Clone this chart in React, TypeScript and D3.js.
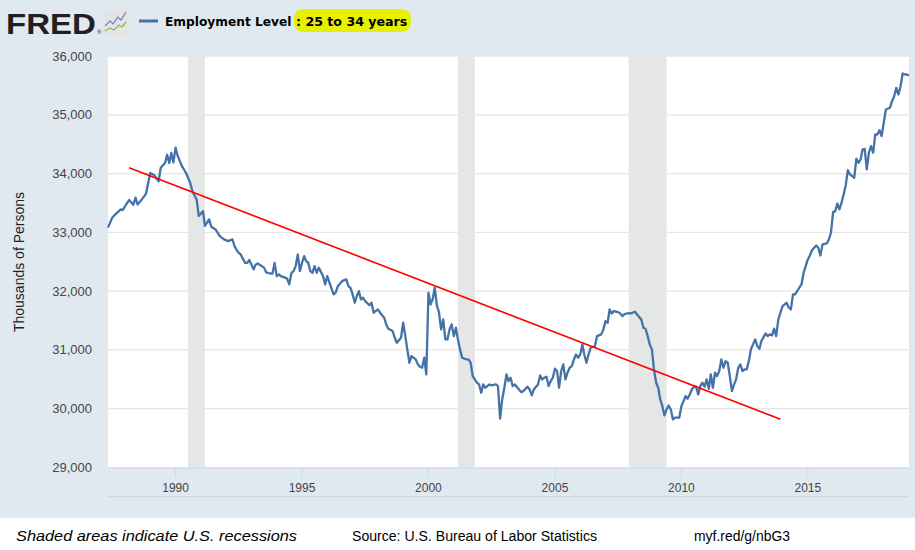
import * as d3 from 'd3';

// Employment Level: 25 to 34 years (thousands of persons), monthly readings
const series: [string, number][] = [
  ['1987-05', 33080], ['1987-07', 33250], ['1987-08', 33290], ['1987-11', 33390], ['1987-12', 33380],
  ['1988-02', 33500], ['1988-03', 33550], ['1988-05', 33470], ['1988-06', 33590], ['1988-07', 33475],
  ['1988-09', 33560], ['1988-11', 33660], ['1988-12', 33840],
  ['1989-01', 34010], ['1989-03', 33970], ['1989-05', 33870], ['1989-06', 34100], ['1989-08', 34180],
  ['1989-09', 34320], ['1989-10', 34180], ['1989-11', 34350], ['1989-12', 34190],
  ['1990-01', 34440], ['1990-02', 34300], ['1990-04', 34130], ['1990-06', 34010], ['1990-08', 33840],
  ['1990-09', 33700], ['1990-11', 33560], ['1990-12', 33280],
  ['1991-02', 33360], ['1991-03', 33110], ['1991-05', 33220], ['1991-06', 33095], ['1991-08', 33050],
  ['1991-10', 32935], ['1991-12', 32880],
  ['1992-02', 32850], ['1992-04', 32880], ['1992-05', 32765], ['1992-06', 32700], ['1992-07', 32650],
  ['1992-08', 32620], ['1992-10', 32480], ['1992-11', 32480], ['1992-12', 32530],
  ['1993-02', 32370], ['1993-03', 32450], ['1993-04', 32470], ['1993-06', 32425], ['1993-07', 32400],
  ['1993-08', 32320], ['1993-10', 32300], ['1993-11', 32300], ['1993-12', 32480],
  ['1994-01', 32255], ['1994-02', 32285], ['1994-03', 32255], ['1994-05', 32230], ['1994-06', 32210],
  ['1994-07', 32115], ['1994-08', 32310], ['1994-09', 32340], ['1994-10', 32425], ['1994-11', 32624],
  ['1994-12', 32340],
  ['1995-01', 32483], ['1995-02', 32595], ['1995-03', 32510], ['1995-04', 32483], ['1995-05', 32340],
  ['1995-06', 32313], ['1995-07', 32425], ['1995-08', 32313], ['1995-09', 32398], ['1995-11', 32255],
  ['1995-12', 32114],
  ['1996-01', 32255], ['1996-02', 32143], ['1996-04', 31944], ['1996-05', 31973], ['1996-06', 32085],
  ['1996-08', 32170], ['1996-10', 32200], ['1996-11', 32085], ['1996-12', 32057],
  ['1997-01', 31944], ['1997-02', 31803], ['1997-03', 31915], ['1997-04', 32000], ['1997-05', 31859],
  ['1997-06', 31888], ['1997-07', 31830], ['1997-09', 31760], ['1997-10', 31803], ['1997-11', 31633],
  ['1998-01', 31690], ['1998-02', 31633], ['1998-04', 31548], ['1998-05', 31434], ['1998-06', 31361],
  ['1998-08', 31320], ['1998-09', 31207], ['1998-10', 31122], ['1998-12', 31207],
  ['1999-01', 31463], ['1999-02', 31235], ['1999-03', 31009], ['1999-04', 30782], ['1999-05', 30895],
  ['1999-07', 30838], ['1999-08', 30754], ['1999-09', 30714], ['1999-10', 30697], ['1999-11', 30867],
  ['1999-12', 30583],
  ['2000-01', 31973], ['2000-02', 31774], ['2000-03', 31859], ['2000-04', 32058], ['2000-05', 31760],
  ['2000-06', 31640], ['2000-07', 31349], ['2000-08', 31519], ['2000-09', 31179], ['2000-10', 31179],
  ['2000-11', 31349], ['2000-12', 31434],
  ['2001-01', 31235], ['2001-02', 31378], ['2001-03', 31179], ['2001-04', 31009], ['2001-05', 30867],
  ['2001-07', 30838], ['2001-08', 30838], ['2001-09', 30782], ['2001-10', 30554], ['2001-12', 30442],
  ['2002-01', 30413], ['2002-02', 30272], ['2002-03', 30413], ['2002-04', 30357], ['2002-06', 30413],
  ['2002-07', 30396], ['2002-09', 30413], ['2002-10', 30385], ['2002-11', 29830], ['2002-12', 30158],
  ['2003-01', 30357], ['2003-02', 30583], ['2003-03', 30470], ['2003-04', 30527], ['2003-05', 30385],
  ['2003-06', 30413], ['2003-08', 30328], ['2003-09', 30282], ['2003-10', 30299], ['2003-12', 30374],
  ['2004-01', 30328], ['2004-02', 30226], ['2004-03', 30328], ['2004-05', 30413], ['2004-06', 30566],
  ['2004-07', 30498], ['2004-08', 30527], ['2004-09', 30544], ['2004-10', 30385], ['2004-11', 30470],
  ['2004-12', 30527],
  ['2005-01', 30680], ['2005-02', 30639], ['2005-03', 30357], ['2005-04', 30639], ['2005-05', 30753],
  ['2005-06', 30498], ['2005-07', 30612], ['2005-08', 30697], ['2005-09', 30724], ['2005-10', 30838],
  ['2005-11', 30923], ['2005-12', 30867],
  ['2006-01', 30923], ['2006-02', 31094], ['2006-03', 30923], ['2006-04', 30782], ['2006-05', 30923],
  ['2006-06', 31037], ['2006-08', 31065], ['2006-09', 31235], ['2006-11', 31264], ['2006-12', 31349],
  ['2007-01', 31490], ['2007-02', 31463], ['2007-03', 31689], ['2007-04', 31621], ['2007-05', 31660],
  ['2007-07', 31643], ['2007-08', 31621], ['2007-09', 31575], ['2007-10', 31609], ['2007-12', 31625],
  ['2008-01', 31621], ['2008-03', 31650], ['2008-04', 31604], ['2008-06', 31519], ['2008-07', 31378],
  ['2008-08', 31361], ['2008-09', 31235], ['2008-10', 31094], ['2008-11', 31009], ['2008-12', 30668],
  ['2009-01', 30442], ['2009-02', 30357], ['2009-03', 30158], ['2009-04', 30044], ['2009-05', 29886],
  ['2009-06', 29988], ['2009-07', 30056], ['2009-08', 29988], ['2009-09', 29818], ['2009-10', 29847],
  ['2009-12', 29847],
  ['2010-01', 30044], ['2010-02', 30129], ['2010-03', 30215], ['2010-04', 30170], ['2010-05', 30243],
  ['2010-06', 30328], ['2010-07', 30374], ['2010-08', 30374], ['2010-09', 30243], ['2010-10', 30385],
  ['2010-11', 30442], ['2010-12', 30374],
  ['2011-01', 30498], ['2011-02', 30340], ['2011-03', 30583], ['2011-04', 30357], ['2011-05', 30612],
  ['2011-06', 30554], ['2011-07', 30639], ['2011-08', 30838], ['2011-09', 30697], ['2011-10', 30810],
  ['2011-11', 30782], ['2011-12', 30554],
  ['2012-01', 30299], ['2012-02', 30413], ['2012-03', 30498], ['2012-04', 30697], ['2012-05', 30753],
  ['2012-06', 30639], ['2012-07', 30668], ['2012-08', 30668], ['2012-09', 30810], ['2012-10', 31009],
  ['2012-12', 31179],
  ['2013-01', 31065], ['2013-02', 31020], ['2013-03', 31150], ['2013-05', 31281], ['2013-06', 31235],
  ['2013-07', 31264], ['2013-08', 31247], ['2013-09', 31361], ['2013-10', 31235], ['2013-11', 31519],
  ['2013-12', 31633],
  ['2014-01', 31745], ['2014-03', 31803], ['2014-04', 31718], ['2014-05', 31689], ['2014-06', 31944],
  ['2014-07', 31944], ['2014-09', 32058], ['2014-10', 32114], ['2014-11', 32313], ['2014-12', 32425],
  ['2015-01', 32539], ['2015-02', 32607], ['2015-03', 32697], ['2015-05', 32777], ['2015-06', 32738],
  ['2015-07', 32607], ['2015-08', 32794], ['2015-10', 32811], ['2015-11', 32879], ['2015-12', 32993],
  ['2016-01', 33344], ['2016-02', 33361], ['2016-03', 33491], ['2016-04', 33390], ['2016-05', 33503],
  ['2016-06', 33645], ['2016-07', 33798], ['2016-08', 34058], ['2016-09', 33985], ['2016-11', 33929],
  ['2016-12', 34252],
  ['2017-01', 34184], ['2017-02', 34240], ['2017-03', 34410], ['2017-04', 34422], ['2017-05', 34070],
  ['2017-06', 34354], ['2017-07', 34466], ['2017-08', 34354], ['2017-09', 34665], ['2017-10', 34665],
  ['2017-11', 34738], ['2017-12', 34636],
  ['2018-01', 34864], ['2018-02', 35090], ['2018-04', 35119], ['2018-05', 35231], ['2018-06', 35316],
  ['2018-07', 35459], ['2018-08', 35345], ['2018-09', 35486], ['2018-10', 35702], ['2018-11', 35685],
  ['2018-12', 35685],
  ['2019-01', 35668],
];

// NBER recessions (start, end)
const recessions: [string, string][] = [
  ['1990-07', '1991-03'],
  ['2001-03', '2001-11'],
  ['2007-12', '2009-06'],
];

// hand drawn red trend line
const trendDates = ['1988-03', '2013-12'];
const trendValues = [34100, 29820];

const yTicks = [29000, 30000, 31000, 32000, 33000, 34000, 35000, 36000];
const xTickYears = [1990, 1995, 2000, 2005, 2010, 2015];

const width = 915;
const height = 550;
const plotLeft = 108;
const plotRight = 909;
const plotTop = 56;
const plotBottom = 467.5;

const parseMonth = d3.timeParse('%Y-%m');
const font = '"Liberation Sans", Arial, sans-serif';
const legendFont = '"DejaVu Sans", Verdana, sans-serif';

export default function App() {
  const points = series.map(([d, v]) => ({ date: parseMonth(d) as Date, value: v }));

  const x = d3
    .scaleTime()
    .domain([points[0].date, points[points.length - 1].date])
    .range([plotLeft, plotRight]);

  const y = d3.scaleLinear().domain([29000, 36000]).range([plotBottom, plotTop]);

  const line = d3
    .line<{ date: Date; value: number }>()
    .x((d) => x(d.date))
    .y((d) => y(d.value));

  const trend = trendDates.map((d, i) => ({ date: parseMonth(d) as Date, value: trendValues[i] }));
  const fmt = d3.format(',');

  return (
    <svg
      width={width}
      height={height}
      style={{ position: 'absolute', left: 0, top: 0, display: 'block' }}
    >
      <rect x={0} y={0} width={width} height={height} fill="#e1e9f0" />
      <rect x={0} y={518} width={width} height={height - 518} fill="#ffffff" />

      {/* header */}
      <text
        x={6}
        y={34}
        fontFamily={font}
        fontWeight="bold"
        fontSize={30}
        fill="#231f20"
        textLength={90}
        lengthAdjust="spacingAndGlyphs"
      >
        FRED
      </text>
      <text x={97} y={34} fontFamily={font} fontSize={6} fill="#231f20">®</text>
      <rect x={103} y={10} width={25} height={25} rx={2} fill="#e4e4e4" />
      <polyline
        points="105,26 110,21 113,24 118,17 121,20 126,12"
        fill="none"
        stroke="#6d8fc4"
        strokeWidth={1.3}
      />
      <polyline
        points="105,31 110,28 114,30 119,25 122,27 126,22"
        fill="none"
        stroke="#8db84a"
        strokeWidth={1.3}
      />
      <line x1={139} x2={158} y1={21} y2={21} stroke="#4572a7" strokeWidth={3} />
      <text x={165} y={26} fontFamily={legendFont} fontWeight="bold" fontSize={12.2} fill="#000">
        Employment Level
      </text>
      <rect x={294} y={9} width={117} height={23} rx={9} fill="#e6f000" />
      <text x={296} y={26} fontFamily={legendFont} fontWeight="bold" fontSize={12.6} fill="#000">
        : 25 to 34 years
      </text>

      {/* plot area */}
      <rect
        x={plotLeft}
        y={plotTop}
        width={plotRight - plotLeft}
        height={plotBottom - plotTop}
        fill="#ffffff"
      />
      {recessions.map(([s, e]) => {
        const x0 = x(parseMonth(s) as Date);
        const x1 = x(parseMonth(e) as Date);
        return (
          <rect
            key={s}
            x={x0}
            y={plotTop}
            width={x1 - x0}
            height={plotBottom - plotTop}
            fill="#e5e6e6"
          />
        );
      })}
      {yTicks.map((t) => (
        <g key={t}>
          {t > 29000 && (
            <line
              x1={plotLeft}
              x2={plotRight}
              y1={y(t)}
              y2={y(t)}
              stroke="#e6e6e6"
              strokeWidth={1.3}
            />
          )}
          <text
            x={92}
            y={y(t)}
            dy="0.35em"
            textAnchor="end"
            fontFamily={font}
            fontSize={13}
            fill="#444"
          >
            {fmt(t)}
          </text>
        </g>
      ))}
      <text
        transform="translate(24,262) rotate(-90)"
        textAnchor="middle"
        fontFamily={font}
        fontSize={14}
        fill="#222"
      >
        Thousands of Persons
      </text>

      {/* x axis */}
      <line x1={plotLeft} x2={plotRight} y1={plotBottom + 0.5} y2={plotBottom + 0.5} stroke="#ccd6eb" />
      {xTickYears.map((yr) => {
        const tx = x(new Date(yr, 0, 1));
        return (
          <g key={yr}>
            <line x1={tx} x2={tx} y1={plotBottom} y2={plotBottom + 10} stroke="#ccd6eb" />
            <text
              x={tx}
              y={492}
              textAnchor="middle"
              fontFamily={font}
              fontSize={12}
              fill="#444"
            >
              {yr}
            </text>
          </g>
        );
      })}
      <line x1={plotLeft} x2={plotRight} y1={496.5} y2={496.5} stroke="#ccd6eb" />

      {/* series */}
      <path d={line(points) ?? ''} fill="none" stroke="#4572a7" strokeWidth={2.3} strokeLinejoin="round" />
      <path d={line(trend) ?? ''} fill="none" stroke="#ff0000" strokeWidth={1.6} />

      {/* footer */}
      <text
        x={16}
        y={541}
        fontFamily={font}
        fontStyle="italic"
        fontSize={14}
        fill="#000"
        textLength={281}
        lengthAdjust="spacingAndGlyphs"
      >
        Shaded areas indicate U.S. recessions
      </text>
      <text
        x={352}
        y={541}
        fontFamily={font}
        fontSize={14}
        fill="#000"
        textLength={245}
        lengthAdjust="spacingAndGlyphs"
      >
        Source: U.S. Bureau of Labor Statistics
      </text>
      <text
        x={694}
        y={541}
        fontFamily={font}
        fontSize={14}
        fill="#000"
        textLength={96}
        lengthAdjust="spacingAndGlyphs"
      >
        myf.red/g/nbG3
      </text>
    </svg>
  );
}
